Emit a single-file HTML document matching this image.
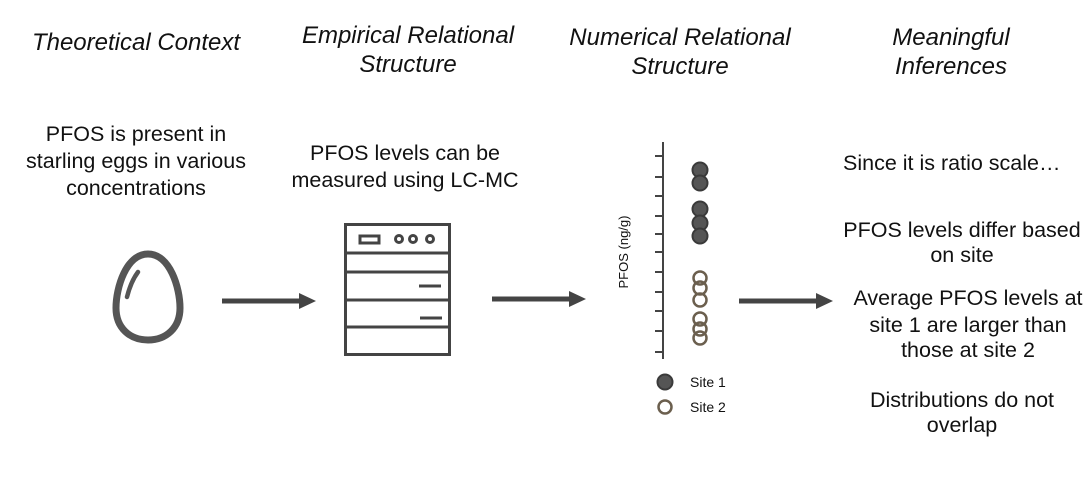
<!DOCTYPE html>
<html><head><style>
html,body{margin:0;padding:0;background:#fff;}
svg{display:block;font-family:"Liberation Sans",Arial,sans-serif;}
.t{font-size:24px;font-style:italic;fill:#111;text-anchor:middle;}
.b{font-size:21.5px;fill:#111;text-anchor:middle;}
</style></head><body>
<svg width="1092" height="496" viewBox="0 0 1092 496">
<text class="t" x="136" y="50">Theoretical Context</text>
<text class="t" x="408" y="43">Empirical Relational</text>
<text class="t" x="408" y="72">Structure</text>
<text class="t" x="680" y="45">Numerical Relational</text>
<text class="t" x="680" y="74">Structure</text>
<text class="t" x="951" y="45">Meaningful</text>
<text class="t" x="951" y="74">Inferences</text>

<text class="b" x="136" y="141">PFOS is present in</text>
<text class="b" x="136" y="168">starling eggs in various</text>
<text class="b" x="136" y="195">concentrations</text>
<text class="b" x="405" y="160">PFOS levels can be</text>
<text class="b" x="405" y="187">measured using LC-MC</text>

<text class="b" x="843" y="170" style="text-anchor:start">Since it is ratio scale…</text>
<text class="b" x="962" y="237">PFOS levels differ based</text>
<text class="b" x="962" y="262">on site</text>
<text class="b" x="968" y="305">Average PFOS levels at</text>
<text class="b" x="968" y="332">site 1 are larger than</text>
<text class="b" x="968" y="357">those at site 2</text>
<text class="b" x="962" y="407">Distributions do not</text>
<text class="b" x="962" y="432">overlap</text>

<!-- egg -->
<path d="M148,254 C126,254 116,288 116,308 C116,328 130,340 148,340 C166,340 180,328 180,308 C180,288 170,254 148,254 Z" fill="none" stroke="#555" stroke-width="7"/>
<path d="M138,272 C132,280 129,289 127,297" fill="none" stroke="#555" stroke-width="4.5" stroke-linecap="round"/>

<!-- arrows -->
<g fill="#444" stroke="#444">
<line x1="222" y1="301" x2="302" y2="301" stroke-width="5"/>
<polygon points="299,293 316,301 299,309" stroke="none"/>
<line x1="492" y1="299" x2="572" y2="299" stroke-width="5"/>
<polygon points="569,291 586,299 569,307" stroke="none"/>
<line x1="739" y1="301" x2="819" y2="301" stroke-width="5"/>
<polygon points="816,293 833,301 816,309" stroke="none"/>
</g>

<!-- server -->
<g fill="none" stroke="#444" stroke-width="3">
<rect x="345.5" y="224.5" width="104" height="130"/>
<line x1="345" y1="253" x2="450" y2="253"/>
<line x1="345" y1="272" x2="450" y2="272"/>
<line x1="345" y1="300" x2="450" y2="300"/>
<line x1="345" y1="327" x2="450" y2="327"/>
<rect x="360" y="236" width="19" height="7"/>
<circle cx="399" cy="239" r="3.5"/>
<circle cx="413" cy="239" r="3.5"/>
<circle cx="430" cy="239" r="3.5"/>
<line x1="419" y1="286" x2="441" y2="286"/>
<line x1="420" y1="318" x2="442" y2="318"/>
</g>

<!-- plot -->
<g stroke="#444" stroke-width="2">
<line x1="663" y1="142" x2="663" y2="359"/>
<line x1="655" y1="156" x2="663" y2="156"/>
<line x1="655" y1="177" x2="663" y2="177"/>
<line x1="655" y1="196" x2="663" y2="196"/>
<line x1="655" y1="216" x2="663" y2="216"/>
<line x1="655" y1="234" x2="663" y2="234"/>
<line x1="655" y1="252" x2="663" y2="252"/>
<line x1="655" y1="272" x2="663" y2="272"/>
<line x1="655" y1="292" x2="663" y2="292"/>
<line x1="655" y1="311" x2="663" y2="311"/>
<line x1="655" y1="331" x2="663" y2="331"/>
<line x1="655" y1="352" x2="663" y2="352"/>
</g>
<text x="628" y="252" font-size="13" fill="#111" text-anchor="middle" transform="rotate(-90 628 252)">PFOS (ng/g)</text>
<g fill="#555" stroke="#3a3a3a" stroke-width="2">
<circle cx="700" cy="170" r="7.5"/>
<circle cx="700" cy="183" r="7.5"/>
<circle cx="700" cy="209" r="7.5"/>
<circle cx="700" cy="223" r="7.5"/>
<circle cx="700" cy="236" r="7.5"/>
<circle cx="665" cy="382" r="7.5"/>
</g>
<g fill="none" stroke="#6b5f4e" stroke-width="2.5">
<circle cx="700" cy="278" r="6.5"/>
<circle cx="700" cy="288" r="6.5"/>
<circle cx="700" cy="300" r="6.5"/>
<circle cx="700" cy="319" r="6.5"/>
<circle cx="700" cy="329" r="6.5"/>
<circle cx="700" cy="338" r="6.5"/>
<circle cx="665" cy="407" r="6.5"/>
</g>
<text x="690" y="387" font-size="14" fill="#111">Site 1</text>
<text x="690" y="412" font-size="14" fill="#111">Site 2</text>
</svg>
</body></html>
